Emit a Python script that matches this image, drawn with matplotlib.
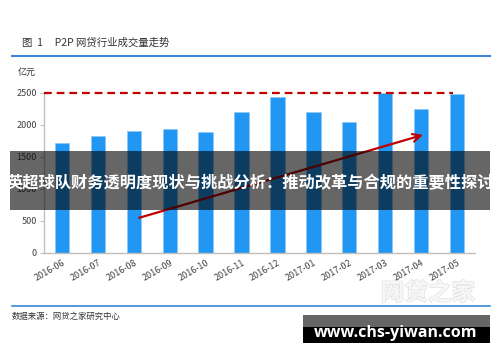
import matplotlib.pyplot as plt
from matplotlib.patches import Rectangle
import matplotlib.patheffects as pe

plt.rcParams['font.family'] = ['Noto Sans CJK SC', 'DejaVu Sans']

months = ['2016-06', '2016-07', '2016-08', '2016-09', '2016-10', '2016-11',
          '2016-12', '2017-01', '2017-02', '2017-03', '2017-04', '2017-05']
volume = [1714, 1828, 1911, 1943, 1885, 2198, 2443, 2208, 2047, 2495, 2245, 2484]
yticks = [0, 500, 1000, 1500, 2000, 2500]
ref_level = 2500
arrow_from = (2.15, 550)
arrow_to = (10.05, 1845)

W, H = 500, 362
fig = plt.figure(figsize=(W / 100, H / 100), dpi=100)
fig.patch.set_facecolor('white')

# main chart
ax = fig.add_axes([44 / W, 1 - 253 / H, 431 / W, 160 / H])
x = list(range(len(months)))
ax.bar(x, volume, width=0.4, color='#2196F3', edgecolor='#8CC8F8', linewidth=0.6,
       clip_on=False, zorder=2)
ax.plot([-0.5, 10.9], [ref_level, ref_level], color='#C00000', lw=1.6,
        ls=(0, (3.5, 2.2)), clip_on=False, zorder=3)
ax.annotate('', xy=arrow_to, xytext=arrow_from,
            arrowprops=dict(arrowstyle='->', color='#C00000', lw=1.6,
                            mutation_scale=14, shrinkA=0, shrinkB=0), zorder=4)
ax.set_xlim(-0.5, 11.5)
ax.set_ylim(0, 2500)
ax.set_yticks(yticks)
ax.set_xticks(x)
ax.set_xticklabels(months, rotation=30, ha='right', rotation_mode='anchor')
ax.tick_params(axis='both', labelsize=6.5, colors='#404040', length=3,
               width=0.8, pad=2)
ax.tick_params(axis='x', length=0, pad=4)
for s in ['top', 'right']:
    ax.spines[s].set_visible(False)
for s in ['left', 'bottom']:
    ax.spines[s].set_color('#BFBFBF')
    ax.spines[s].set_linewidth(1)
ax.tick_params(axis='y', color='#BFBFBF')

# decorations in pixel coordinates
ov = fig.add_axes([0, 0, 1, 1], zorder=10)
ov.set_xlim(0, W)
ov.set_ylim(H, 0)
ov.axis('off')
ov.patch.set_alpha(0)

ov.text(22, 43, '图  1     P2P 网贷行业成交量走势', fontsize=7.5, color='#333333',
        va='center', ha='left')
ov.plot([12, 490], [56, 56], color='#3A85D6', lw=1.5)
ov.text(18, 72, '亿元', fontsize=6.5, color='#333333', va='center', ha='left')

ov.text(428, 293, '网贷之家', fontsize=17, color='#F7F7F7', ha='center', va='center',
        fontweight='bold',
        path_effects=[pe.withStroke(linewidth=1.0, foreground='#E2E2E2')])
ov.plot([12, 490], [306, 306], color='#3A85D6', lw=1.2)
ov.text(12, 316, '数据来源：网贷之家研究中心', fontsize=6, color='#333333',
        va='center', ha='left')

ov.add_patch(Rectangle((10, 151), 480, 59, facecolor='black', alpha=0.6,
                       edgecolor='none'))
ov.text(250, 183, '英超球队财务透明度现状与挑战分析：推动改革与合规的重要性探讨',
        fontsize=11.7, color='white', fontweight='bold', ha='center', va='center')

ov.add_patch(Rectangle((303, 315), 187, 12, facecolor='#666666', edgecolor='none'))
ov.add_patch(Rectangle((303, 327), 187, 16, facecolor='black', edgecolor='none'))
ov.text(396, 333, 'www.chs-yiwan.com', fontsize=11.5, color='white',
        fontweight='bold', ha='center', va='center', family=['Open Sans', 'DejaVu Sans'])

fig.savefig('out.png', dpi=100)
